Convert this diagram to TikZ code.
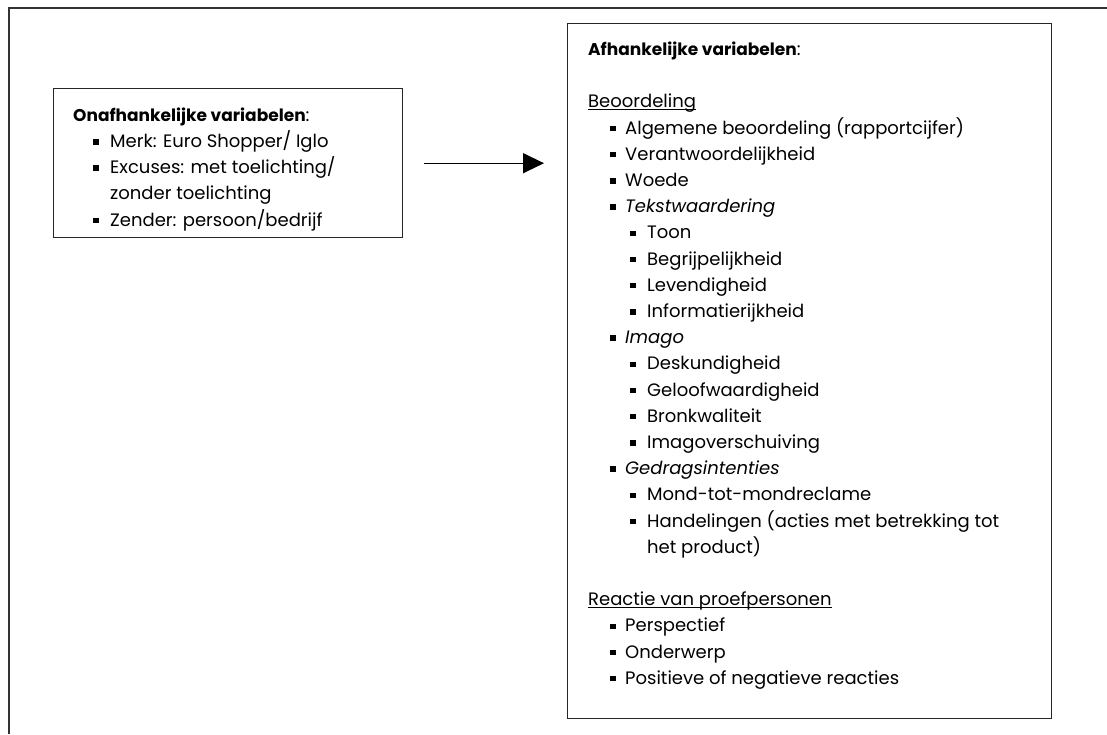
\documentclass[tikz,border=0pt]{standalone}
\usepackage{fontspec}
\setmainfont{Poppins}
\usetikzlibrary{arrows.meta, positioning}
\newcommand{\blok}{\rule[2.8pt]{5.5pt}{5.5pt}}
\newcommand{\eerste}[1]{\makebox[15pt][l]{\blok}#1}
\newcommand{\tweede}[1]{\makebox[17pt][l]{\blok}#1}
\newcommand{\kop}[1]{{\fontsize{17}{26}\selectfont\textbf{#1}}}
\newcommand{\onderstreept}[1]{\setbox0\hbox{#1}\rlap{\rule[-2.5pt]{\wd0}{1pt}}\box0}

\begin{document}
\begin{tikzpicture}[
            x=1pt, y=-1pt,
            font=\fontsize{18}{26}\selectfont,
            kader/.style={rectangle, draw=black!85, line width=1.4pt, anchor=north west, inner sep=0pt},
            regel/.style={anchor=base west, inner sep=0pt},
            pijl/.style={-{Triangle[length=21pt, width=20pt]}, line width=1.4pt}
        ]
            \useasboundingbox (0,0) rectangle (1107,734);
            \draw[line width=1.4pt, black!80] (9,734) -- (9,8) -- (1107,8);
            % onafhankelijke variabelen
            \node[kader, minimum width=349pt, minimum height=149pt] (onafh) at (53,88) {};
            \node[regel] (onafhkop) at (73,121.2) {\kop{Onafhankelijke variabelen}:};
            \node[regel] (merk) at (93,147.4) {\tweede{Merk: Euro Shopper/ Iglo}};
            \node[regel] (excuses) at (93,173.6) {\tweede{Excuses: met toelichting/}};
            \node[regel] (excuses2) at (110,199.8) {zonder toelichting};
            \node[regel] (zender) at (93,226) {\tweede{Zender: persoon/bedrijf}};
            % afhankelijke variabelen
            \node[kader, minimum width=484pt, minimum height=695pt] (afh) at (567,23) {};
            \node[regel] (afhkop) at (588,55.4) {\kop{Afhankelijke variabelen}:};
            \node[regel] (beoordeling) at (588,107.8) {\onderstreept{Beoordeling}};
            \node[regel] (algemeen) at (610,134) {\eerste{Algemene beoordeling (rapportcijfer)}};
            \node[regel] (verantw) at (610,160.2) {\eerste{Verantwoordelijkheid}};
            \node[regel] (woede) at (610,186.4) {\eerste{Woede}};
            \node[regel] (tekst) at (610,212.6) {\eerste{\textit{Tekstwaardering}}};
            \node[regel] (toon) at (630,238.8) {\tweede{Toon}};
            \node[regel] (begrip) at (630,265) {\tweede{Begrijpelijkheid}};
            \node[regel] (levend) at (630,291.2) {\tweede{Levendigheid}};
            \node[regel] (info) at (630,317.4) {\tweede{Informatierijkheid}};
            \node[regel] (imago) at (610,343.6) {\eerste{\textit{Imago}}};
            \node[regel] (deskundig) at (630,369.8) {\tweede{Deskundigheid}};
            \node[regel] (geloof) at (630,396) {\tweede{Geloofwaardigheid}};
            \node[regel] (bron) at (630,422.2) {\tweede{Bronkwaliteit}};
            \node[regel] (verschuiving) at (630,448.4) {\tweede{Imagoverschuiving}};
            \node[regel] (gedrag) at (610,474.6) {\eerste{\textit{Gedragsintenties}}};
            \node[regel] (mond) at (630,500.8) {\tweede{Mond-tot-mondreclame}};
            \node[regel] (handel) at (630,527) {\tweede{Handelingen (acties met betrekking tot}};
            \node[regel] (handel2) at (647,553.2) {het product)};
            \node[regel] (reactie) at (588,605.6) {\onderstreept{Reactie van proefpersonen}};
            \node[regel] (perspectief) at (610,631.8) {\eerste{Perspectief}};
            \node[regel] (onderwerp) at (610,658) {\eerste{Onderwerp}};
            \node[regel] (positief) at (610,684.2) {\eerste{Positieve of negatieve reacties}};
            \draw[pijl, shorten <=21pt, shorten >=23pt] (onafh.east) -- (onafh.east -| afh.west);
        \end{tikzpicture}
\end{document}
